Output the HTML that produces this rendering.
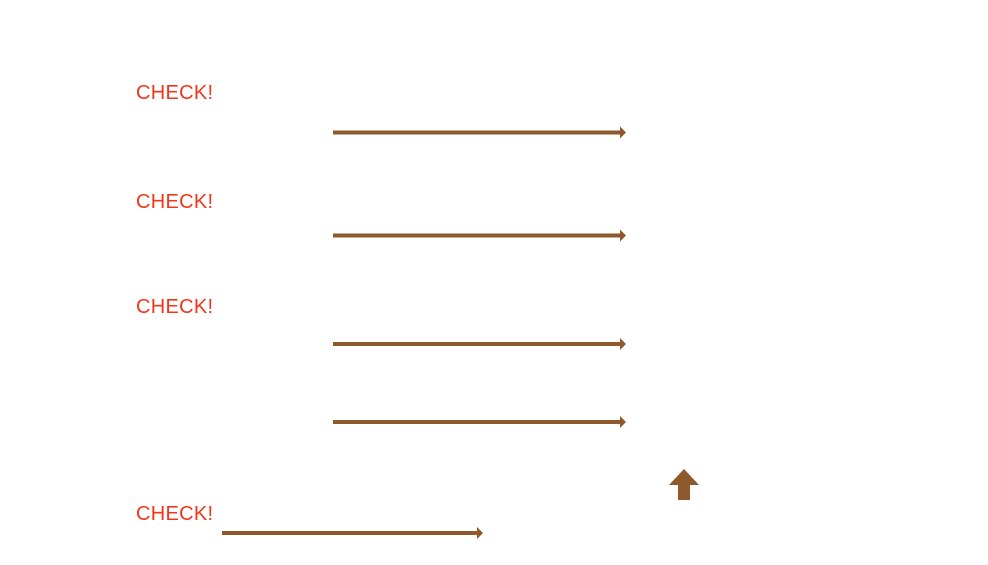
<!DOCTYPE html>
<html><head><style>
body{margin:0;width:988px;height:565px;background:#fff;overflow:hidden;position:relative;font-family:"Liberation Sans",sans-serif}
.t{position:absolute;left:136px;color:#f2361b;font-size:20px;line-height:20px;letter-spacing:0.3px}
</style></head><body>
<div class="t" style="top:83px">CHECK!</div>
<div class="t" style="top:192px">CHECK!</div>
<div class="t" style="top:297px">CHECK!</div>
<div class="t" style="top:504px">CHECK!</div>
<svg width="988" height="565" style="position:absolute;left:0;top:0">
<g fill="#8f5a2b">
<rect x="333" y="130.5" width="288" height="4"/><polygon points="620,126.5 626,132.5 620,138.5"/>
<rect x="333" y="233.5" width="288" height="4"/><polygon points="620,229.5 626,235.5 620,241.5"/>
<rect x="333" y="342" width="288" height="4"/><polygon points="620,338 626,344 620,350"/>
<rect x="333" y="420" width="288" height="4"/><polygon points="620,416 626,422 620,428"/>
<rect x="222" y="531" width="256" height="4"/><polygon points="477,527 483,533 477,539"/>
<polygon points="684,469 699,485 690,485 690,500 678,500 678,485 669,485"/>
</g>
</svg>
</body></html>
